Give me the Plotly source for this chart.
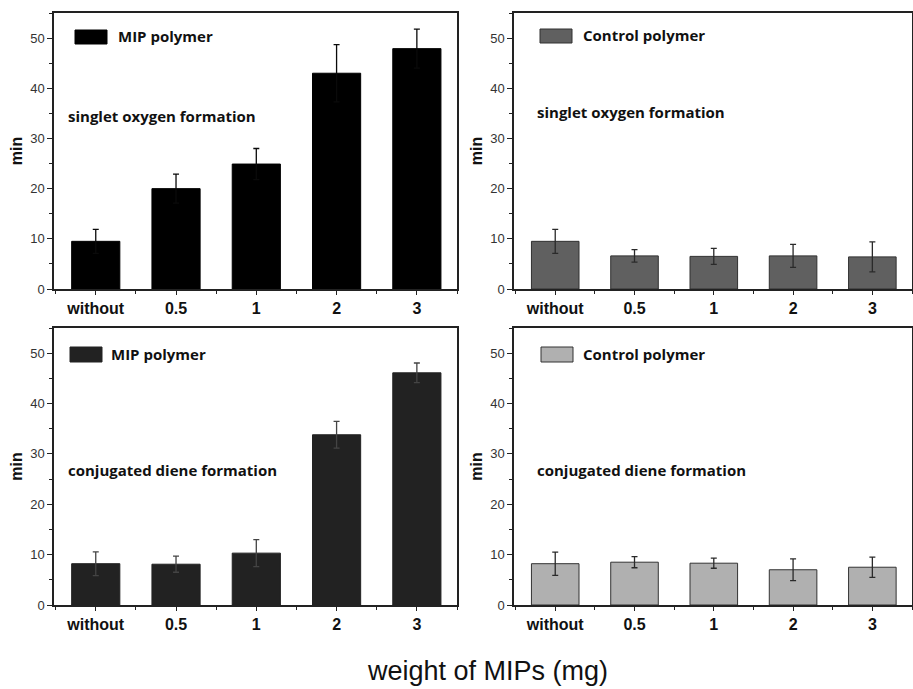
import plotly.graph_objects as go

categories = ["without", "0.5", "1", "2", "3"]

mip_singlet = [9.5, 20.0, 24.9, 43.0, 47.9]
mip_singlet_err = [2.4, 2.9, 3.1, 5.7, 3.9]

ctrl_singlet = [9.5, 6.6, 6.5, 6.6, 6.4]
ctrl_singlet_err = [2.4, 1.25, 1.6, 2.3, 3.0]

mip_diene = [8.2, 8.1, 10.3, 33.8, 46.1]
mip_diene_err = [2.35, 1.6, 2.7, 2.65, 1.95]

ctrl_diene = [8.2, 8.5, 8.3, 7.0, 7.5]
ctrl_diene_err = [2.3, 1.1, 1.0, 2.15, 2.0]

yticks = [0, 10, 20, 30, 40, 50]

W, H = 913, 689
xpos = list(range(len(categories)))

panels = [
    (mip_singlet, mip_singlet_err, "#000000", "#000000", "#0a0a0a", "MIP polymer", "singlet oxygen formation",
     (54, 457), (13, 289)),
    (ctrl_singlet, ctrl_singlet_err, "#606060", "#303030", "#2a2a2a", "Control polymer", "singlet oxygen formation",
     (514, 912), (13, 289)),
    (mip_diene, mip_diene_err, "#222222", "#222222", "#444444", "MIP polymer", "conjugated diene formation",
     (54, 457), (328, 605)),
    (ctrl_diene, ctrl_diene_err, "#b0b0b0", "#333333", "#2a2a2a", "Control polymer", "conjugated diene formation",
     (514, 912), (328, 605)),
]

legend_pos = [
    ((75, 107), (30, 44), 116, 36, 66, 116),
    ((540, 572), (29, 43), 581, 35, 535, 112),
    ((70, 102), (347, 362), 109, 354, 66, 470),
    ((541, 573), (347, 362), 581, 354, 535, 470),
]

fig = go.Figure()
shapes = []
annotations = []

for i, (vals, errs, fill, outline, ecol, leg, note, xd, yd) in enumerate(panels):
    n = i + 1
    xa = "x" if n == 1 else f"x{n}"
    ya = "y" if n == 1 else f"y{n}"
    fig.add_trace(go.Bar(
        x=xpos, y=vals, width=0.6, xaxis=xa, yaxis=ya,
        marker=dict(color=fill, line=dict(color=outline, width=1)),
        error_y=dict(type="data", array=errs, visible=True, color=ecol,
                     thickness=1.3, width=3),
        showlegend=False, hoverinfo="skip",
    ))
    xkey = "xaxis" if n == 1 else f"xaxis{n}"
    ykey = "yaxis" if n == 1 else f"yaxis{n}"
    fig.update_layout(**{
        xkey: dict(
            domain=[xd[0] / W, xd[1] / W], anchor=ya, range=[-0.52, 4.5],
            tickmode="array", tickvals=xpos, ticktext=[f"<b>{c}</b>" for c in categories],
            tickfont=dict(family="Liberation Sans, Arial", size=16, color="#111111"),
            ticks="outside", ticklen=4, tickwidth=1.3, tickcolor="#222",
            minor=dict(ticks="outside", dtick=0.5, tick0=0.5, ticklen=3, tickcolor="#222"),
            showline=True, linecolor="#222", linewidth=1.5, mirror=True,
            showgrid=False, zeroline=False, fixedrange=True, automargin=False,
        ),
        ykey: dict(
            domain=[1 - yd[1] / H, 1 - yd[0] / H], anchor=xa, range=[0, 55],
            tickmode="array", tickvals=yticks,
            tickfont=dict(family="Liberation Sans, Arial", size=13, color="#333333"),
            ticks="outside", ticklen=5, tickwidth=1.3, tickcolor="#222",
            minor=dict(ticks="outside", dtick=5, tick0=0, ticklen=3, tickcolor="#222"),
            showline=True, linecolor="#222", linewidth=1.5, mirror=True,
            showgrid=False, zeroline=False, fixedrange=True, automargin=False,
            title=dict(text="<b>min</b>", font=dict(family="Liberation Sans, Arial", size=16, color="#111"),
                       standoff=4),
        ),
    })
    (sx, sy, tx, ty, nx, ny) = legend_pos[i]
    shapes.append(dict(type="rect", xref="paper", yref="paper",
                       x0=sx[0] / W, x1=sx[1] / W, y0=1 - sy[1] / H, y1=1 - sy[0] / H,
                       fillcolor=fill, line=dict(color=outline, width=1)))
    annotations.append(dict(text=f"<b>{leg}</b>", xref="paper", yref="paper",
                            x=tx / W, y=1 - ty / H, xanchor="left", yanchor="middle",
                            showarrow=False,
                            font=dict(family="Open Sans", size=15, color="#111")))
    annotations.append(dict(text=f"<b>{note}</b>", xref="paper", yref="paper",
                            x=nx / W, y=1 - ny / H, xanchor="left", yanchor="middle",
                            showarrow=False,
                            font=dict(family="Open Sans", size=15, color="#111")))

annotations.append(dict(text="weight of MIPs (mg)", xref="paper", yref="paper",
                        x=487 / W, y=1 - 671 / H, xanchor="center", yanchor="middle",
                        showarrow=False,
                        font=dict(family="Liberation Sans, Arial", size=27, color="#111")))

fig.update_layout(
    width=W, height=H, margin=dict(l=0, r=0, t=0, b=0, autoexpand=False),
    paper_bgcolor="white", plot_bgcolor="white",
    shapes=shapes, annotations=annotations, bargap=0.4,
)

fig.write_html("out.html", config={"displayModeBar": False},
               post_script="document.body.style.margin='0px';document.body.style.overflow='hidden';")
